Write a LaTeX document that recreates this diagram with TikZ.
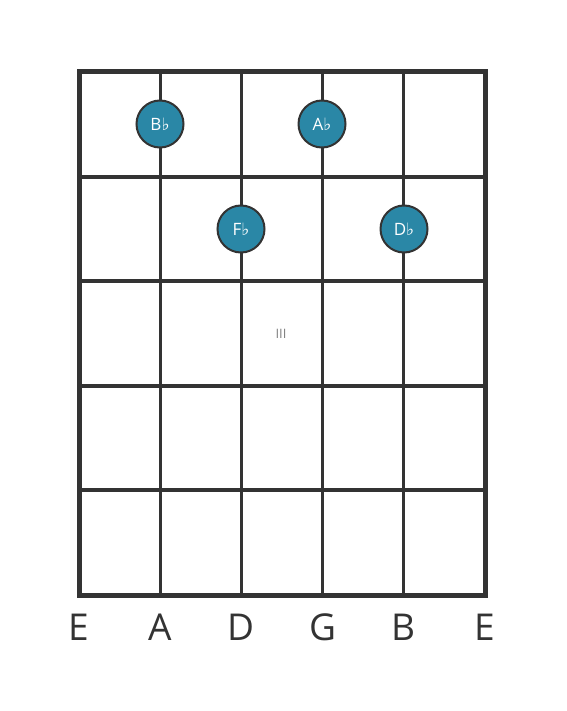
\documentclass[tikz,border=0pt]{standalone}
\usepackage{fontspec}
\setmainfont{Open Sans}
\newfontfamily\flatfont{DejaVu Sans}
\usetikzlibrary{positioning}
\definecolor{notefill}{HTML}{2A87A6}
\definecolor{gridline}{HTML}{333333}
\newcommand{\flt}{{\flatfont\char"266D}}

\begin{document}
\begin{tikzpicture}[x=1pt,y=-1pt,
note/.style={circle,draw=gridline,fill=notefill,line width=2pt,
minimum size=47pt,inner sep=0pt,text=white,font=\fontsize{17}{17}\selectfont},
stringname/.style={text=gridline,font=\fontsize{37}{37}\selectfont},
fretline/.style={draw=gridline,line width=4pt},
stringline/.style={draw=gridline,line width=3pt}]
\useasboundingbox (0,0) rectangle (566,711);
% strings and frets
\foreach \s [count=\i from 0] in {E1,A,D,G,B,E2} {
  \coordinate (top \s) at (79+81.2*\i,72);
  \coordinate (bot \s) at (79+81.2*\i,595);
  \draw[stringline] (top \s) -- (bot \s);
}
\foreach \f in {1,2,3,4} {
  \coordinate (left \f) at (79,72+104.6*\f);
  \coordinate (right \f) at (485,72+104.6*\f);
  \draw[fretline] (left \f) -- (right \f);
}
\draw[draw=gridline,line width=5pt] (top E1) rectangle (bot E2);
% string names
\foreach \s/\t in {E1/E,A/A,D/D,G/G,B/B,E2/E}
  \node[stringname] (name \s) at ([yshift=-32pt]bot \s) {\t};
% position marker
\node[text=gray,font=\fontsize{13}{13}\selectfont] (position) at (281,334) {III};
% notes
\node[note] (bflat) at (160,124) {B\flt};
\node[note] (aflat) at (322,124) {A\flt};
\node[note] (fflat) at (241,229) {F\flt};
\node[note] (dflat) at (404,229) {D\flt};
\end{tikzpicture}
\end{document}
